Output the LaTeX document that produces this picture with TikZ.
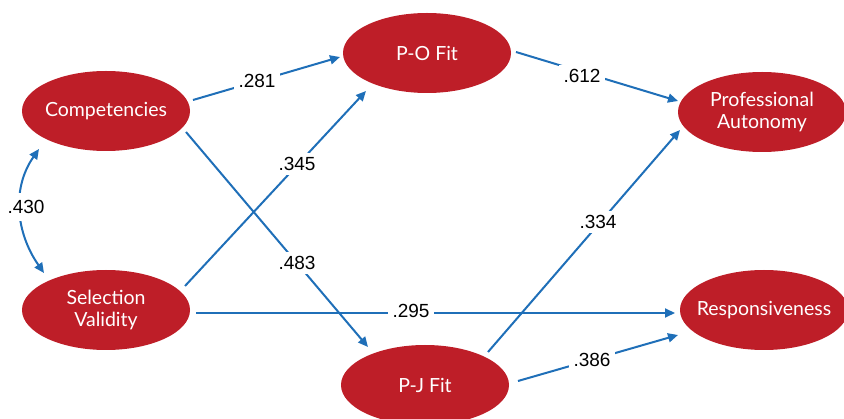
\documentclass[tikz,border=0pt]{standalone}
\usepackage{fontspec}
\setmainfont{Lato}
\newfontfamily\numfont{Liberation Sans}
\usetikzlibrary{arrows.meta,shapes.geometric}
\definecolor{nodered}{RGB}{190,30,40}
\definecolor{arrowblue}{RGB}{31,111,184}
\begin{document}
\begin{tikzpicture}[x=1pt,y=1pt,
  var/.style={ellipse,fill=nodered,draw=none,minimum width=168pt,minimum height=80pt,inner sep=0pt,
    inner xsep=-30pt,text=white,font=\fontsize{19.5}{22}\selectfont,align=center},
  path/.style={draw=arrowblue,line width=2pt,-{Triangle[length=10pt,width=9pt]}},
  coef/.style={fill=white,inner xsep=5pt,inner ysep=4pt,font=\numfont\fontsize{19}{22}\selectfont,text=black}]
\useasboundingbox (0,0) rectangle (844,418);
\node[var] (comp) at (106,307) {Competencies};
\node[var] (sv) at (106,108) {Selection\\Validity};
\node[var] (po) at (427,365) {P-O Fit};
\node[var] (pj) at (425,33) {P-J Fit};
\node[var] (pa) at (762,306) {Professional\\Autonomy};
\node[var] (re) at (764,108) {Responsiveness};

\draw[path] ([shift={(87,11)}]comp.center) -- ([shift={(-87,-4)}]po.center);
\draw[path] ([shift={(89,1)}]po.center) -- ([shift={(-84,11)}]pa.center);
\draw[path] ([shift={(80,-21)}]comp.center) -- ([shift={(-57,38)}]pj.center);
\draw[path] ([shift={(79,24)}]sv.center) -- ([shift={(-61,-38)}]po.center);
\draw[path] ([shift={(90,-3)}]sv.center) -- ([shift={(-89,-3)}]re.center);
\draw[path] ([shift={(63,33)}]pj.center) -- ([shift={(-82,-18)}]pa.center);
\draw[path] ([shift={(93,4)}]pj.center) -- ([shift={(-86,-25)}]re.center);
\draw[draw=arrowblue,line width=2pt,{Triangle[length=10pt,width=9pt]}-{Triangle[length=10pt,width=9pt]}]
  ([shift={(-62,37)}]sv.center) to[out=125,in=235] ([shift={(-67,-38)}]comp.center);

\node[coef] (c1) at (257,337) {.281};
\node[coef] (c2) at (582,342) {.612};
\node[coef] (c3) at (297,155) {.483};
\node[coef] (c4) at (297,254) {.345};
\node[coef] (c5) at (411,107) {.295};
\node[coef] (c6) at (598,196) {.334};
\node[coef] (c7) at (592,58) {.386};
\node[coef,inner xsep=1pt,inner ysep=7pt] (c8) at (26,211) {.430};
\end{tikzpicture}
\end{document}
